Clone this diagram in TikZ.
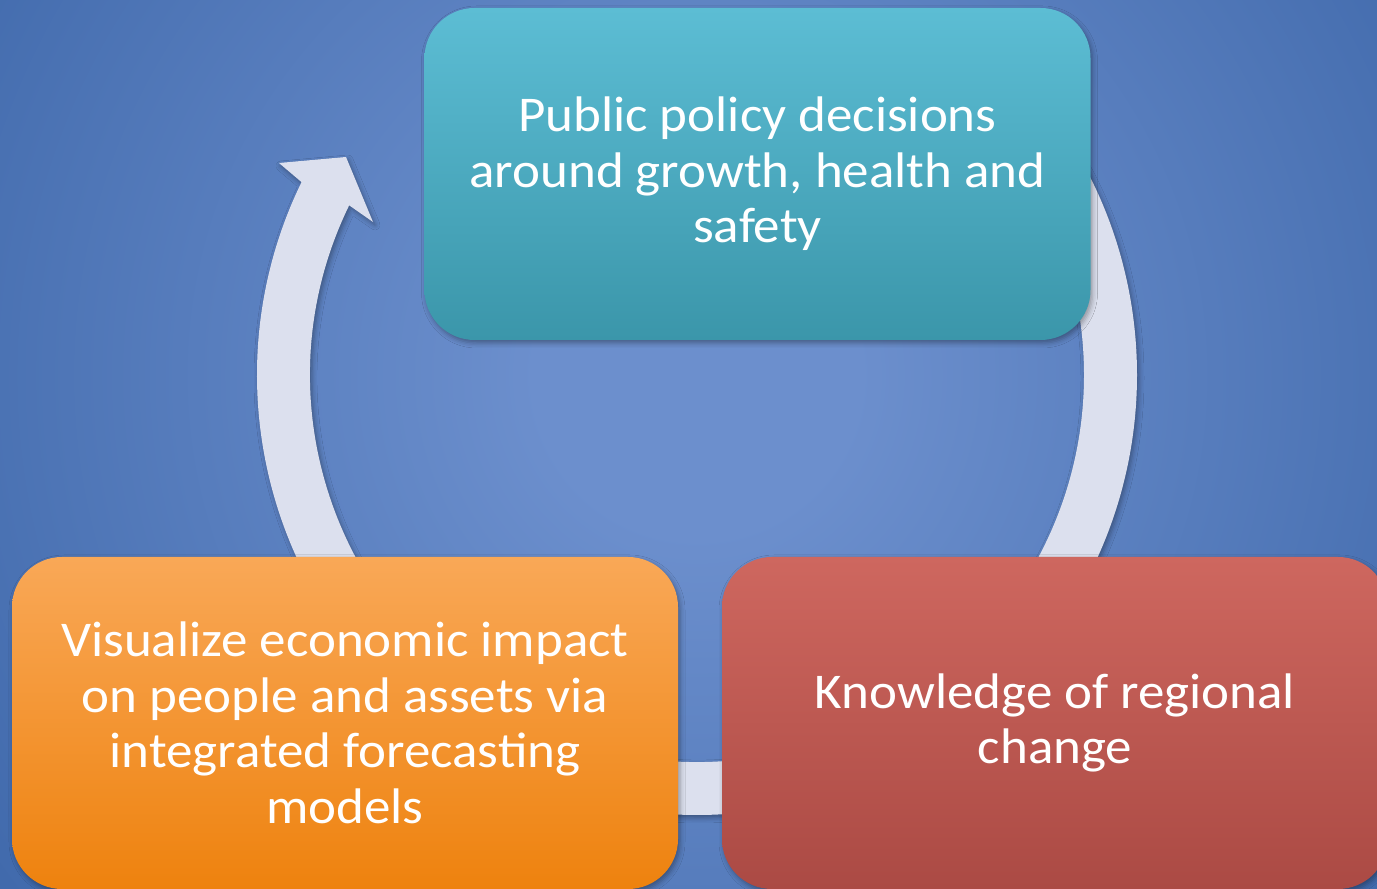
\documentclass[tikz,border=0pt]{standalone}
\usepackage{fontspec}
\setmainfont{Carlito}[FakeStretch=1.06]
\usetikzlibrary{shadows.blur}
\definecolor{bgc}{RGB}{108,143,205}
\definecolor{bge}{RGB}{44,88,156}
\definecolor{ringc}{RGB}{220,224,238}
\definecolor{tealtop}{RGB}{92,189,212}
\definecolor{tealbot}{RGB}{59,150,170}
\definecolor{orgtop}{RGB}{249,168,87}
\definecolor{orgbot}{RGB}{238,130,14}
\definecolor{redtop}{RGB}{206,103,95}
\definecolor{redbot}{RGB}{171,74,68}
\pgfdeclareradialshading{bgshade}{\pgfpoint{0bp}{0bp}}{color(0bp)=(bgc); color(4bp)=(bgc); color(30bp)=(bge); color(50bp)=(bge)}
\tikzset{
  softshadow/.style={blur shadow={shadow xshift=2pt, shadow yshift=-3pt, shadow blur radius=5pt, shadow opacity=35}},
  cyclebox/.style={rounded corners=50pt, minimum width=666pt, minimum height=332pt, inner sep=0pt,
    align=center, text=white, font=\fontsize{50}{55.5}\selectfont, softshadow},
}
\begin{document}
\begin{tikzpicture}[x=1pt,y=1pt]
\useasboundingbox (0,0) rectangle (1377,889);
\begin{scope}
  \clip (0,0) rectangle (1377,889);
  \shade[shading=bgshade] (697,514) circle (1000);
  % circular arrow
  \fill[ringc, softshadow] (697,514) ++(45:440) arc[start angle=45, end angle=-206, radius=440]
    -- (279,726) -- (346,732) -- (373,667)
    -- ([shift={(697,514)}]-206:387) arc[start angle=-206, end angle=45, radius=387] -- cycle;
  % boxes
  \node[cyclebox, top color=tealtop, bottom color=tealbot] (policy) at (757.5,715)
    {Public policy decisions\\around growth, health and\\safety};
  \node[cyclebox, top color=orgtop, bottom color=orgbot] (visual) at (345,166)
    {Visualize economic impact\\on people and assets via\\integrated forecasting\\models};
  \node[cyclebox, top color=redtop, bottom color=redbot] (knowledge) at (1055,166)
    {Knowledge of regional\\change};
\end{scope}
\end{tikzpicture}
\end{document}
